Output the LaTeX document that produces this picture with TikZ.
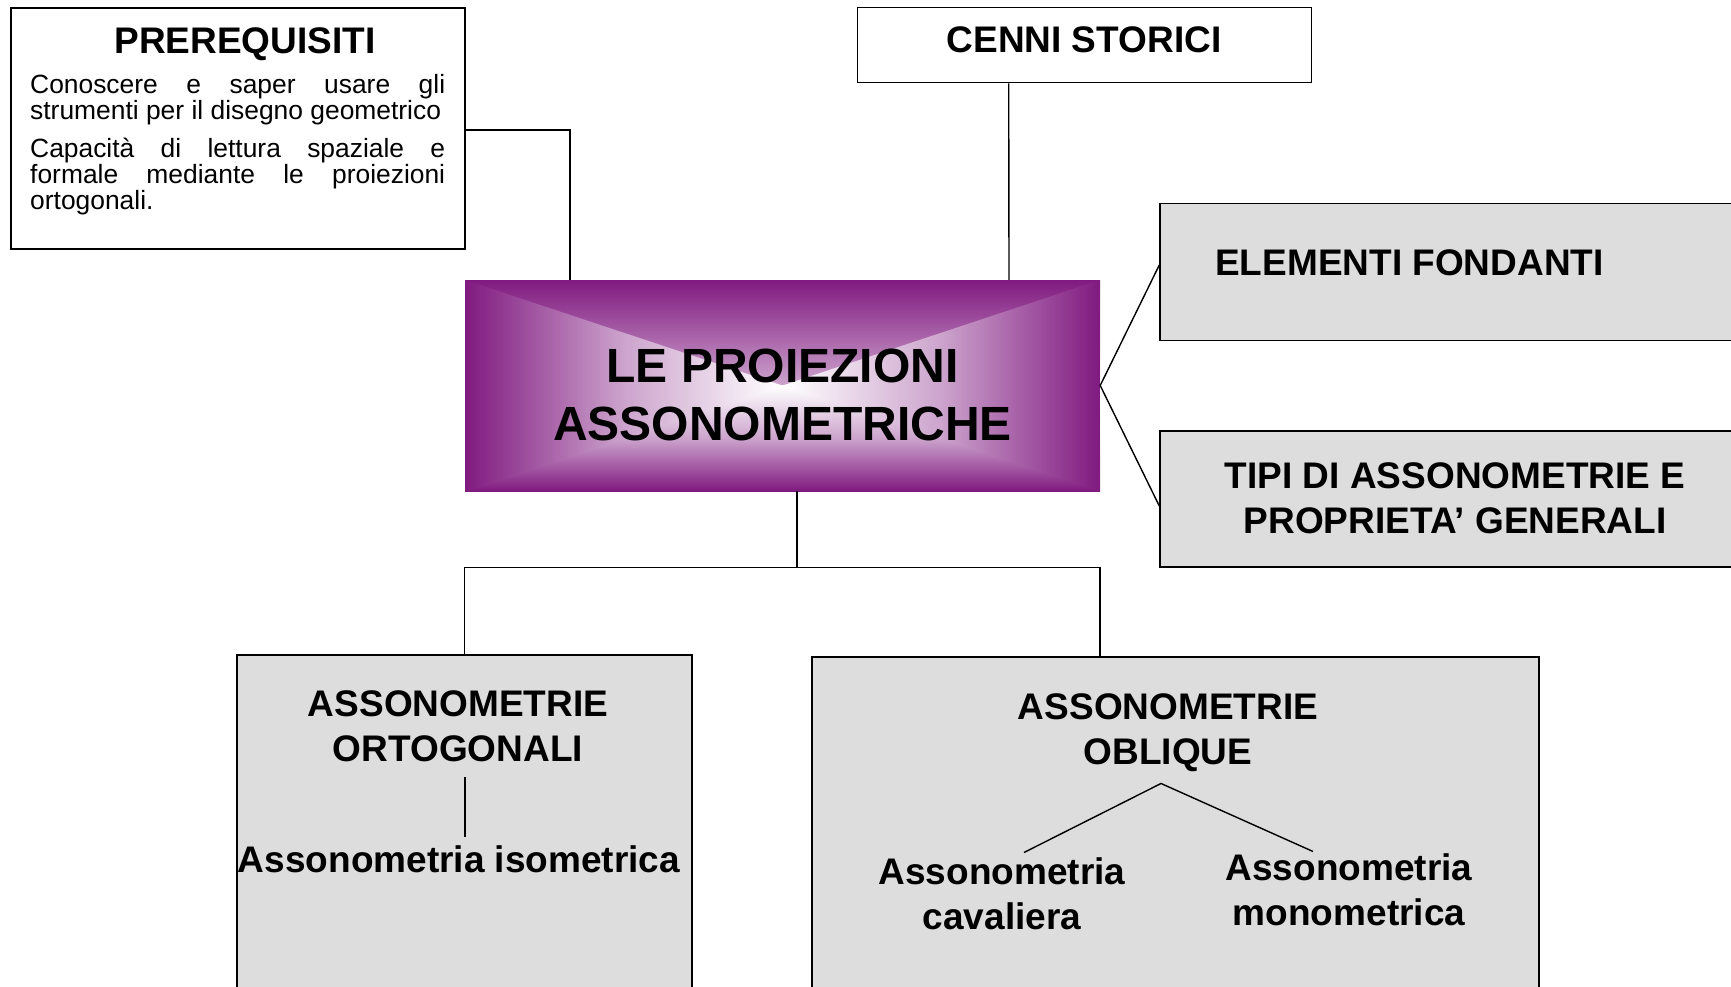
\documentclass[tikz,border=0pt]{standalone}
\usepackage{fontspec}
\setmainfont{Liberation Sans}
\tolerance=9999
\hyphenpenalty=10000
\definecolor{viola}{RGB}{128,26,128}
\definecolor{grigio}{RGB}{221,221,221}
\tikzset{
    riquadro/.style={draw, line width=1.4pt, inner sep=0pt},
    grigiobox/.style={riquadro, fill=grigio},
    titolo/.style={font=\bfseries\fontsize{37}{44.5}\selectfont, align=center, inner sep=0pt, anchor=base},
    corpo/.style={font=\fontsize{26.4}{21.5}\selectfont, text width=415pt, align=justify, inner sep=0pt, anchor=base west},
    linea/.style={line width=1.4pt},
    sfumato/.style={inner sep=0pt, path picture={
        \shade[top color=viola, bottom color=white, middle color=viola!40!white] (path picture bounding box.north west) rectangle (path picture bounding box.east);
        \shade[bottom color=viola, top color=white, middle color=viola!40!white] (path picture bounding box.west) rectangle (path picture bounding box.south east);
        \shade[left color=viola, right color=white, middle color=viola!40!white] (path picture bounding box.north west) -- (path picture bounding box.south west) -- (path picture bounding box.center) -- cycle;
        \shade[right color=viola, left color=white, middle color=viola!40!white] (path picture bounding box.north east) -- (path picture bounding box.south east) -- (path picture bounding box.center) -- cycle;
    }}
}
\begin{document}
\begin{tikzpicture}[x=1pt,y=-1pt]
    \useasboundingbox (0,0) rectangle (1731,987);
    \clip (0,0) rectangle (1731,987);
    %riquadri in alto
    \node[riquadro, minimum width=454pt, minimum height=241pt] (prereq) at (238,128.5) {};
    \node[titolo] (prereqtit) at (245,54) {PREREQUISITI};
    \node[corpo] (prereqa) at (30,93.5) {Conoscere e saper usare gli\linebreak strumenti per il disegno geometrico};
    \node[corpo] (prereqb) at (30,158) {Capacità di lettura spaziale e\linebreak formale mediante le proiezioni\linebreak ortogonali.};
    \node[riquadro, minimum width=454pt, minimum height=75pt] (cenni) at (1084.7,45.3) {};
    \node[titolo] (cennitit) at (1084,53) {CENNI STORICI};
    %centro
    \node[sfumato, minimum width=635pt, minimum height=211pt] (proiezioni) at (782.5,385.5) {};
    \node[titolo, font=\bfseries\fontsize{48}{57.3}\selectfont] (proiezionitit) at (782.5,440) {LE PROIEZIONI\\ASSONOMETRICHE};
    %destra
    \node[grigiobox, minimum width=590pt, minimum height=137pt] (elementi) at (1455,272) {};
    \node[titolo, anchor=base west] (elementitit) at (1215,275) {ELEMENTI FONDANTI};
    \node[grigiobox, minimum width=590pt, minimum height=136pt] (tipi) at (1455,499) {};
    \node[titolo] (tipitit) at (1455,533) {TIPI DI ASSONOMETRIE E\\PROPRIETA’ GENERALI};
    %in basso
    \node[grigiobox, minimum width=455pt, minimum height=345pt] (orto) at (464.5,827.5) {};
    \node[titolo] (ortotit) at (458,761) {ASSONOMETRIE\\ORTOGONALI};
    \node[titolo] (isometrica) at (459,872) {Assonometria isometrica};
    \node[grigiobox, minimum width=727pt, minimum height=343pt] (obliqui) at (1175.5,828.5) {};
    \node[titolo] (obliquitit) at (1168,764) {ASSONOMETRIE\\OBLIQUE};
    \node[titolo] (cavaliera) at (1002,929) {Assonometria\\cavaliera};
    \node[titolo] (monometrica) at (1349,925) {Assonometria\\monometrica};
    %collegamenti
    \draw[linea] ([yshift=-1.5pt]prereq.east) -| ([xshift=-212.5pt]proiezioni.north);
    \draw[linea] ([xshift=-76pt]cenni.south) -- ([xshift=226.5pt]proiezioni.north);
    \draw[linea] ([yshift=7pt]elementi.west) -- (proiezioni.east) -- ([yshift=-7pt]tipi.west);
    \draw[linea] ([xshift=14.5pt]proiezioni.south) -- ++(0,76) coordinate (snodo);
    \draw[linea] (orto.north) |- (snodo) -| ([xshift=-75.5pt]obliqui.north);
    \draw[linea] ([xshift=7pt,yshift=-15pt]ortotit.south) -- ([xshift=6pt,yshift=8pt]isometrica.north);
    \draw[linea] ([xshift=22pt,yshift=5pt]cavaliera.north) -- ([xshift=-7pt,yshift=-12pt]obliquitit.south) -- ([xshift=-36pt,yshift=2pt]monometrica.north);
\end{tikzpicture}
\end{document}
